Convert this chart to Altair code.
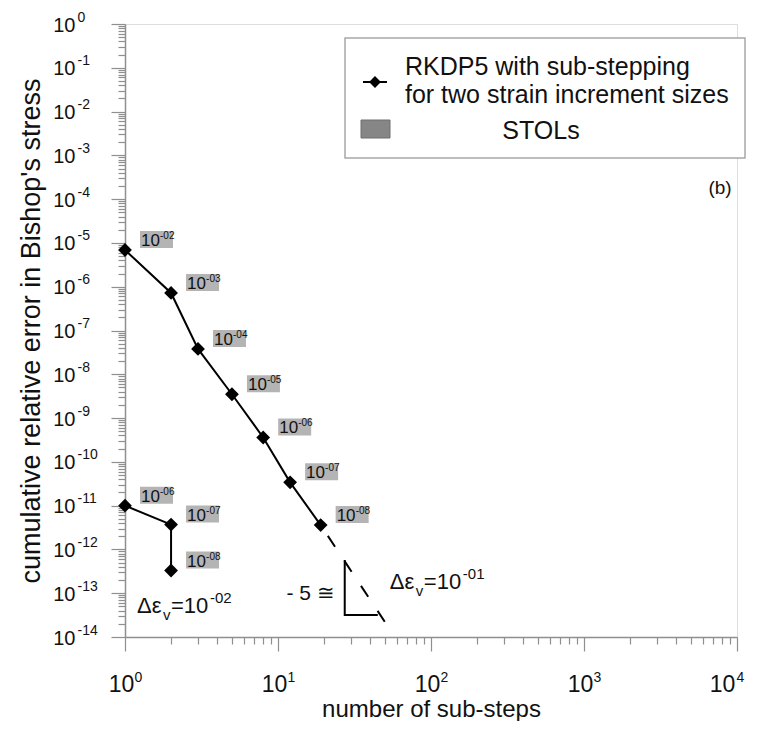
import altair as alt
import pandas as pd

# ---------------- data ----------------
# RKDP5 with sub-stepping, strain increment 10^-01
steps_a = [1, 2, 3, 5, 8, 12, 19]
error_a = [6.9e-6, 7.2e-7, 3.8e-8, 3.5e-9, 3.6e-10, 3.4e-11, 3.6e-12]
stol_a = ["-02", "-03", "-04", "-05", "-06", "-07", "-08"]

# RKDP5 with sub-stepping, strain increment 10^-02
steps_b = [1, 2, 2]
error_b = [1.0e-11, 3.7e-12, 3.3e-13]
stol_b = ["-06", "-07", "-08"]

# slope -5 guide (dashed) and slope triangle
guide_steps = [19, 50]
guide_error = [3.6e-12, 2.2e-14]
tri_steps = [27.3, 27.3, 44.9]
tri_error = [5.7e-13, 3.2e-14, 3.2e-14]

# annotations (anchor in data units)
eps_steps = [1.198, 53.8]
eps_error = [3.6e-14, 1.25e-13]
eps_exp = ["-02", "-01"]
slope_steps = [23.5]
slope_error = [7.0e-14]
slope_text = ["- 5 \u2245"]

# axis ticks
x_decades = [1, 10, 100, 1000, 10000]
y_decades = [10.0 ** k for k in range(-14, 1)]
x_minor = [m * 10.0 ** k for k in range(0, 4) for m in range(2, 10)]
y_minor = [m * 10.0 ** k for k in range(-14, 0) for m in range(2, 10)]

FONT = "Liberation Sans"
GRAY = "#8f8f8f"
TXT = "#111111"
BOX = "#b4b4b4"

df_a = pd.DataFrame({"steps": steps_a, "error": error_a, "stol": stol_a,
                     "order": list(range(len(steps_a)))})
df_b = pd.DataFrame({"steps": steps_b, "error": error_b, "stol": stol_b,
                     "order": list(range(len(steps_b)))})
df_pts = pd.concat([df_a, df_b], ignore_index=True)
df_guide = pd.DataFrame({"steps": guide_steps, "error": guide_error})
df_tri = pd.DataFrame({"steps": tri_steps, "error": tri_error, "order": [0, 1, 2]})
df_eps = pd.DataFrame({"steps": eps_steps, "error": eps_error, "exp": eps_exp})
df_slope = pd.DataFrame({"steps": slope_steps, "error": slope_error, "t": slope_text})
one = pd.DataFrame({"k": [0]})

xscale = alt.Scale(type="log", domain=[1, 10000])
yscale = alt.Scale(type="log", domain=[1e-14, 1])


def X(axis=None):
    return alt.X("steps:Q", scale=xscale, axis=axis)


def Y(axis=None):
    return alt.Y("error:Q", scale=yscale, axis=axis)


EXP = "toString(round(log(datum.value)/LN10))"
LAST = "datum.value >= 10000"

x_major = alt.Axis(values=x_decades, orient="bottom", labelExpr="'10'",
                   tickSize=14, tickColor=GRAY, domainColor=GRAY, domainWidth=1.5,
                   tickWidth=1.2, labelFontSize=23, labelAlign="center",
                   labelOffset={"condition": {"test": LAST, "value": -15}, "value": -4},
                   labelBaseline="alphabetic", labelPadding=40, labelFlush=False,
                   labelOverlap=False, labelColor=TXT, grid=False,
                   title="number of sub-steps", titleFontSize=24,
                   titleFontWeight="normal", titleColor=TXT, titleX=306, titleY=79.5,
                   titleBaseline="alphabetic", titleAlign="center")
x_exp = alt.Axis(values=x_decades, orient="bottom", labelExpr=EXP,
                 tickSize=14, tickOpacity=0, domain=False, labelFontSize=14,
                 labelAlign="left",
                 labelOffset={"condition": {"test": LAST, "value": -1}, "value": 9},
                 labelBaseline="alphabetic",
                 labelPadding=30, labelFlush=False, labelOverlap=False,
                 labelColor=TXT, grid=False, title=None)
x_min = alt.Axis(values=x_minor, orient="bottom", labels=False, domain=False,
                 tickSize=7, tickColor=GRAY, tickWidth=1.2, grid=False, title=None)

y_major = alt.Axis(values=y_decades, orient="left", labelExpr="'10'",
                   tickSize=14, tickColor=GRAY, domainColor=GRAY, domainWidth=1.5,
                   tickWidth=1.2, labelFontSize=20, labelAlign="right",
                   labelBaseline="alphabetic", labelOffset=7, labelPadding=36,
                   labelOverlap=False, labelFlush=False, labelColor=TXT, grid=False,
                   title="cumulative relative error in Bishop's stress",
                   titleFontSize=27, titleFontWeight="normal", titleColor=TXT,
                   titleX=-94, titleY=306.5, titleAngle=-90, titleBaseline="middle",
                   titleAlign="center")
y_exp = alt.Axis(values=y_decades, orient="left", labelExpr=EXP,
                 tickSize=14, tickOpacity=0, domain=False, labelFontSize=14,
                 labelAlign="left", labelBaseline="alphabetic", labelOffset=-3,
                 labelPadding=34, labelOverlap=False, labelFlush=False,
                 labelColor=TXT, grid=False, title=None)
y_min = alt.Axis(values=y_minor, orient="left", labels=False, domain=False,
                 tickSize=7, tickColor=GRAY, tickWidth=1.2, grid=False, title=None)

# axis carriers (invisible)
car_major = alt.Chart(df_pts).mark_point(opacity=0).encode(x=X(x_major), y=Y(y_major))
car_exp = alt.Chart(df_pts).mark_point(opacity=0).encode(x=X(x_exp), y=Y(y_exp))
car_min = alt.Chart(df_pts).mark_point(opacity=0).encode(x=X(x_min), y=Y(y_min))

guide = alt.Chart(df_guide).mark_line(color="black", strokeWidth=2,
                                      strokeDash=[13, 17], strokeDashOffset=17
                                      ).encode(x=X(), y=Y())
tri = alt.Chart(df_tri).mark_line(color="black", strokeWidth=2).encode(
    x=X(), y=Y(), order="order:Q")
line_a = alt.Chart(df_a).mark_line(color="black", strokeWidth=2).encode(
    x=X(), y=Y(), order="order:Q")
line_b = alt.Chart(df_b).mark_line(color="black", strokeWidth=2).encode(
    x=X(), y=Y(), order="order:Q")

boxes = alt.Chart(df_pts).mark_rect(fill=BOX, xOffset=15, x2Offset=48,
                                    yOffset=-19, y2Offset=-2).encode(
    x=X(), x2=alt.X2("steps:Q"), y=Y(), y2=alt.Y2("error:Q"))
lab10 = alt.Chart(df_pts).mark_text(font=FONT, fontSize=17, color=TXT, align="left",
                                    baseline="alphabetic", dx=16, dy=-4).encode(
    x=X(), y=Y(), text=alt.value("10"))
labexp = alt.Chart(df_pts).mark_text(font=FONT, fontSize=10, color=TXT, align="left",
                                     baseline="alphabetic", dx=35, dy=-11).encode(
    x=X(), y=Y(), text="stol:N")

points = alt.Chart(df_pts).mark_point(shape="diamond", filled=True, color="black",
                                      size=190, opacity=1).encode(x=X(), y=Y())


# annotations
def eps_piece(txt, size, dx, dy, field=None):
    enc = dict(x=X(), y=Y(), text=(alt.Text(field) if field else alt.value(txt)))
    return alt.Chart(df_eps).mark_text(font=FONT, fontSize=size, color=TXT,
                                       align="left", baseline="alphabetic",
                                       dx=dx, dy=dy).encode(**enc)


eps1 = eps_piece("\u0394\u03b5", 22, 0, 0)
eps2 = eps_piece("v", 15, 26, 7)
eps3 = eps_piece("=10", 22, 34, 0)
eps4 = eps_piece(None, 15, 73, -10, field="exp:N")

slope = alt.Chart(df_slope).mark_text(font=FONT, fontSize=21, color=TXT, align="right",
                                      baseline="alphabetic").encode(
    x=X(), y=Y(), text="t:N")

# legend (decoration in pixel space)
leg_box = alt.Chart(one).mark_rect(fill="white", stroke="#a8a8a8", strokeWidth=1.5).encode(
    x=alt.value(220), x2=alt.value(620), y=alt.value(14), y2=alt.value(134))
leg_line = alt.Chart(one).mark_rule(color="black", strokeWidth=2).encode(
    x=alt.value(238), x2=alt.value(262), y=alt.value(58))
leg_pt = alt.Chart(one).mark_point(shape="diamond", filled=True, color="black",
                                   size=140, opacity=1).encode(
    x=alt.value(250), y=alt.value(58))
leg_t1 = alt.Chart(one).mark_text(font=FONT, fontSize=25, color=TXT, align="left",
                                  baseline="alphabetic").encode(
    x=alt.value(280), y=alt.value(51), text=alt.value("RKDP5 with sub-stepping"))
leg_t2 = alt.Chart(one).mark_text(font=FONT, fontSize=25, color=TXT, align="left",
                                  baseline="alphabetic").encode(
    x=alt.value(280), y=alt.value(79), text=alt.value("for two strain increment sizes"))
leg_sq = alt.Chart(one).mark_rect(fill="#868686", stroke="#6e6e6e", strokeWidth=1).encode(
    x=alt.value(236), x2=alt.value(265), y=alt.value(96), y2=alt.value(114))
leg_t3 = alt.Chart(one).mark_text(font=FONT, fontSize=25, color=TXT, align="center",
                                  baseline="alphabetic").encode(
    x=alt.value(416), y=alt.value(115), text=alt.value("STOLs"))
panel = alt.Chart(one).mark_text(font=FONT, fontSize=19, color=TXT, align="center",
                                 baseline="alphabetic").encode(
    x=alt.value(595), y=alt.value(170), text=alt.value("(b)"))

chart = alt.layer(
    car_major, car_exp, car_min,
    guide, tri, line_a, line_b, boxes, lab10, labexp, points,
    eps1, eps2, eps3, eps4, slope,
    leg_box, leg_line, leg_pt, leg_t1, leg_t2, leg_sq, leg_t3, panel,
).resolve_axis(x="independent", y="independent").properties(
    width=612, height=613,
    autosize=alt.AutoSizeParams(type="none"),
    padding={"left": 117, "top": 16, "right": 12, "bottom": 84},
).configure_view(stroke=None).configure(font=FONT)

chart.save("out.html", embed_options={"renderer": "svg", "actions": False})
